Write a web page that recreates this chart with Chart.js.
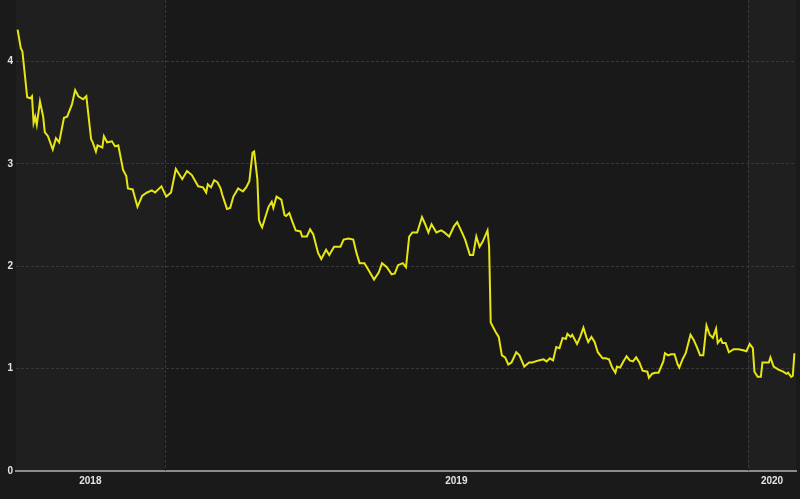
<!DOCTYPE html>
<html>
<head>
<meta charset="utf-8">
<script src="https://cdn.jsdelivr.net/npm/chart.js@4.4.1/dist/chart.umd.min.js"></script>
<style>
  html, body { margin: 0; padding: 0; background: #1a1a1a; }
  #wrap { width: 800px; height: 499px; }
</style>
</head>
<body>
<div id="wrap"><canvas id="chart"></canvas></div>
<script>
// x = days counted from 2019-01-01 (negative = late 2018)
const days = [
  -92, -90, -89, -86, -84, -83, -82, -81, -80, -78, -76, -75, -73, -70, -68, -66, -63, -61, -58, -56,
  -54, -51, -49, -46, -45, -43, -42, -39, -38, -36, -33, -31, -29, -26, -24, -23, -20, -17, -14, -11,
  -8, -6, -2, 1, 4, 7, 11, 14, 17, 21, 24, 26, 27, 29, 31, 33, 35, 36, 39, 41,
  43, 46, 49, 51, 53, 54, 55, 56, 58, 59, 60, 61, 63, 65, 67, 68, 70, 73, 75, 76,
  78, 80, 82, 85, 86, 89, 91, 93, 96, 98, 101, 103, 106, 110, 112, 115, 118, 120, 122, 125,
  128, 131, 134, 136, 139, 142, 144, 146, 149, 151, 153, 155, 158, 161, 163, 165, 167, 170, 173, 175,
  178, 181, 183, 186, 188, 191, 193, 195, 197, 199, 202, 203, 204, 207, 209, 211, 213, 215, 217, 220,
  222, 225, 228, 230, 234, 237, 239, 241, 243, 245, 247, 249, 251, 252, 254, 255, 258, 260, 262, 264,
  265, 267, 269, 271, 274, 276, 278, 280, 282, 283, 285, 287, 289, 291, 293, 295, 297, 299, 302, 303,
  305, 307, 309, 312, 313, 315, 317, 319, 321, 322, 324, 326, 329, 331, 333, 335, 337, 339, 341, 343,
  345, 346, 348, 349, 351, 353, 356, 359, 362, 364, 366, 368, 369, 371, 373, 374, 376, 378, 379, 381,
  384, 387, 389, 390, 392, 393, 394
];
const values = [
  4.31, 4.13, 4.10, 3.65, 3.64, 3.66, 3.40, 3.46, 3.38, 3.61, 3.46, 3.31, 3.27, 3.14, 3.25, 3.21, 3.45, 3.46, 3.58, 3.72,
  3.66, 3.63, 3.66, 3.24, 3.21, 3.12, 3.18, 3.16, 3.27, 3.21, 3.22, 3.17, 3.18, 2.94, 2.88, 2.76, 2.75, 2.58, 2.69, 2.72,
  2.74, 2.72, 2.78, 2.68, 2.72, 2.95, 2.85, 2.93, 2.89, 2.78, 2.77, 2.72, 2.80, 2.77, 2.84, 2.82, 2.76, 2.70, 2.56, 2.57,
  2.68, 2.76, 2.73, 2.77, 2.83, 2.97, 3.11, 3.12, 2.85, 2.45, 2.41, 2.38, 2.48, 2.58, 2.63, 2.57, 2.68, 2.65, 2.50, 2.49,
  2.52, 2.43, 2.35, 2.34, 2.29, 2.29, 2.36, 2.31, 2.13, 2.07, 2.16, 2.11, 2.19, 2.19, 2.26, 2.27, 2.26, 2.13, 2.03, 2.03,
  1.95, 1.87, 1.94, 2.03, 1.99, 1.92, 1.93, 2.01, 2.03, 1.99, 2.29, 2.33, 2.33, 2.48, 2.41, 2.33, 2.41, 2.33, 2.35, 2.33,
  2.29, 2.39, 2.43, 2.33, 2.26, 2.11, 2.11, 2.29, 2.19, 2.24, 2.35, 2.19, 1.45, 1.36, 1.31, 1.13, 1.11, 1.04, 1.06, 1.16,
  1.13, 1.02, 1.06, 1.06, 1.08, 1.09, 1.07, 1.10, 1.08, 1.21, 1.20, 1.30, 1.29, 1.34, 1.31, 1.33, 1.24, 1.31, 1.40, 1.30,
  1.26, 1.31, 1.26, 1.16, 1.10, 1.10, 1.09, 1.01, 0.96, 1.02, 1.01, 1.07, 1.12, 1.08, 1.07, 1.11, 1.06, 0.98, 0.97, 0.91,
  0.95, 0.96, 0.96, 1.07, 1.15, 1.13, 1.14, 1.14, 1.04, 1.01, 1.09, 1.15, 1.33, 1.28, 1.21, 1.13, 1.13, 1.42, 1.33, 1.30,
  1.39, 1.25, 1.29, 1.25, 1.25, 1.16, 1.19, 1.19, 1.18, 1.17, 1.24, 1.20, 0.97, 0.92, 0.92, 1.06, 1.06, 1.06, 1.11, 1.02,
  0.99, 0.97, 0.95, 0.96, 0.92, 0.93, 1.15
];
const xRange = [-93, 395];
const yearBounds = [0, 365];          // 2019-01-01, 2020-01-01
const yearLabels = ['2018', '2019', '2020'];
const yTicks = [0, 1, 2, 3, 4];

// spans between visible edges and year starts, labels sit in the middle of each
const edges = [xRange[0], ...yearBounds, xRange[1]];
const centers = edges.slice(0, -1).map((e, i) => (e + edges[i + 1]) / 2);

const yearBands = {
  id: 'yearBands',
  beforeDraw(chart) {
    const { ctx, chartArea: a, scales: { x } } = chart;
    ctx.save();
    for (let i = 0; i < edges.length - 1; i++) {
      const x0 = x.getPixelForValue(edges[i]);
      const x1 = x.getPixelForValue(edges[i + 1]);
      ctx.fillStyle = i % 2 === 0 ? '#1f1f1f' : '#191919';
      ctx.fillRect(x0, a.top, x1 - x0, a.bottom - a.top);
    }
    ctx.restore();
  },
  beforeDatasetsDraw(chart) {
    const { ctx, chartArea: a, scales: { x } } = chart;
    ctx.save();
    ctx.strokeStyle = '#3a3a3a';
    ctx.lineWidth = 1;
    ctx.setLineDash([3, 2]);
    yearBounds.forEach(b => {
      const px = Math.round(x.getPixelForValue(b)) + 0.5;
      ctx.beginPath();
      ctx.moveTo(px, a.top);
      ctx.lineTo(px, a.bottom);
      ctx.stroke();
    });
    ctx.restore();
  }
};

const tickFont = { family: 'Liberation Sans, Arial, sans-serif', size: 10, weight: 'bold' };

new Chart(document.getElementById('chart'), {
  type: 'line',
  data: {
    datasets: [{
      data: days.map((d, i) => ({ x: d, y: values[i] })),
      borderColor: '#e6e614',
      borderWidth: 2,
      pointRadius: 0,
      tension: 0,
      fill: false
    }]
  },
  options: {
    responsive: true,
    maintainAspectRatio: false,
    animation: false,
    layout: { autoPadding: false, padding: { top: 0, right: 4, left: 0, bottom: 0 } },
    plugins: {
      legend: { display: false },
      tooltip: { enabled: false }
    },
    scales: {
      x: {
        type: 'linear',
        min: xRange[0],
        max: xRange[1],
        afterBuildTicks: scale => { scale.ticks = centers.map(v => ({ value: v })); },
        afterFit: scale => {
          scale.height = 28;
          scale.paddingLeft = 0;
          scale.paddingRight = 0;
        },
        ticks: {
          color: '#e4e4e4',
          font: tickFont,
          padding: 4,
          maxRotation: 0,
          autoSkip: false,
          callback: (v, i) => yearLabels[i]
        },
        grid: { display: false, drawTicks: false },
        border: { display: true, color: '#8c8c8c', width: 2 }
      },
      y: {
        min: 0,
        max: 4.6,
        afterBuildTicks: scale => { scale.ticks = yTicks.map(v => ({ value: v })); },
        afterFit: scale => {
          scale.width = 16;
          scale.paddingTop = 0;
          scale.paddingBottom = 0;
        },
        ticks: {
          color: '#e4e4e4',
          font: tickFont,
          padding: 3,
          callback: v => v
        },
        grid: {
          drawTicks: false,
          color: ctx => ctx.tick && ctx.tick.value === 0 ? 'rgba(0,0,0,0)' : '#383838',
          lineWidth: 1
        },
        border: { display: false, dash: [3, 2] }
      }
    }
  },
  plugins: [yearBands]
});
</script>
</body>
</html>
